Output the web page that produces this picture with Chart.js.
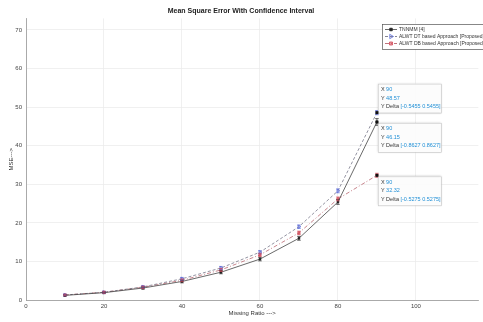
<!DOCTYPE html>
<html>
<head>
<meta charset="utf-8">
<script src="https://cdn.jsdelivr.net/npm/chart.js@4"></script>
<style>
  html, body { margin: 0; padding: 0; background: #fff; }
  #wrap { width: 483px; height: 322px; }
</style>
</head>
<body>
<div id="wrap"><canvas id="mseChart" width="483" height="322"></canvas></div>
<script>
// missing ratio (%) on x, mean square error on y
const missingRatio = [10, 20, 30, 40, 50, 60, 70, 80, 90];
const tnnmmMse = [1.2, 1.9, 3.1, 4.8, 7.2, 10.6, 16.0, 25.4, 46.15];
const dtMse = [1.3, 2.0, 3.4, 5.5, 8.3, 12.4, 19.0, 28.3, 48.57];
const dbMse = [1.3, 2.0, 3.3, 5.1, 7.8, 11.7, 17.4, 26.2, 32.32];

// half width of the confidence interval at each point
const tnnmmErr = [0.2, 0.25, 0.3, 0.35, 0.4, 0.45, 0.5, 0.6, 0.8627];
const dtErr = [0.2, 0.25, 0.3, 0.35, 0.4, 0.4, 0.45, 0.5, 0.5455];
const dbErr = [0.2, 0.25, 0.3, 0.35, 0.4, 0.4, 0.45, 0.5, 0.5275];

const seriesNames = [
  "TNNMM [4]",
  "ALWT DT based Approach [Proposed]",
  "ALWT DB based Approach [Proposed]"
];
const xTicks = [0, 20, 40, 60, 80, 100];
const yTicks = [0, 10, 20, 30, 40, 50, 60, 70];

const FONT = "'Liberation Sans', Arial, sans-serif";
Chart.defaults.font.family = FONT;

function toPoints(ys) {
  return missingRatio.map((x, i) => ({ x: x, y: ys[i] }));
}

// vertical error bars with small caps
const errorBars = {
  id: "errorBars",
  afterDatasetsDraw(chart) {
    const ctx = chart.ctx;
    const yScale = chart.scales.y;
    chart.data.datasets.forEach((ds, di) => {
      const meta = chart.getDatasetMeta(di);
      ctx.save();
      ctx.strokeStyle = ds.pointBorderColor;
      ctx.lineWidth = 0.7;
      meta.data.forEach((pt, i) => {
        const v = ds.data[i].y;
        const e = ds.errors[i];
        const top = yScale.getPixelForValue(v + e);
        const bot = yScale.getPixelForValue(v - e);
        ctx.beginPath();
        ctx.moveTo(pt.x, top); ctx.lineTo(pt.x, bot);
        ctx.moveTo(pt.x - 1.8, top); ctx.lineTo(pt.x + 1.8, top);
        ctx.moveTo(pt.x - 1.8, bot); ctx.lineTo(pt.x + 1.8, bot);
        ctx.stroke();
      });
      ctx.restore();
    });
  }
};

// data tip boxes at the last point of each series
const dataTips = [
  { ds: 1, idx: 8, above: true },
  { ds: 0, idx: 8, above: false },
  { ds: 2, idx: 8, above: false }
];

const tipPlugin = {
  id: "tipPlugin",
  afterDraw(chart) {
    const ctx = chart.ctx;
    const xs = chart.scales.x, ys = chart.scales.y;
    ctx.save();
    dataTips.forEach(t => {
      const ds = chart.data.datasets[t.ds];
      const p = ds.data[t.idx];
      const px = xs.getPixelForValue(p.x);
      const py = ys.getPixelForValue(p.y);
      const e = ds.errors[t.idx];
      const w = 63, h = 29;
      const bx = px + 1;
      const by = t.above ? py - h : py + 1;
      ctx.fillStyle = "rgba(255,255,255,0.95)";
      ctx.shadowColor = "rgba(0,0,0,0.25)";
      ctx.shadowBlur = 2;
      ctx.fillRect(bx, by, w, h);
      ctx.shadowBlur = 0;
      ctx.strokeStyle = "#c8c8c8";
      ctx.lineWidth = 0.6;
      ctx.strokeRect(bx + 0.5, by + 0.5, w, h);

      const rows = [
        ["X ", String(p.x)],
        ["Y ", p.y.toFixed(2)],
        ["Y Delta ", "[-" + e.toFixed(4) + " " + e.toFixed(4) + "]"]
      ];
      ctx.font = "5.5px " + FONT;
      ctx.textBaseline = "middle";
      rows.forEach((r, i) => {
        const ty = by + 6 + i * 8.5;
        ctx.fillStyle = "#333";
        ctx.fillText(r[0], bx + 3, ty);
        const lw = ctx.measureText(r[0]).width;
        ctx.fillStyle = "#1f8fd6";
        ctx.fillText(r[1], bx + 3 + lw, ty);
      });

      ctx.fillStyle = "#111";
      ctx.fillRect(px - 1.5, py - 1.5, 3, 3);
    });
    ctx.restore();
  }
};

// boxed legend in the top right corner of the plot
const boxLegend = {
  id: "boxLegend",
  afterDraw(chart) {
    const ctx = chart.ctx;
    const x0 = 382, y0 = 24, w = 110, rowH = 7;
    ctx.save();
    ctx.fillStyle = "#fff";
    ctx.fillRect(x0, y0, w, rowH * 3 + 4);
    ctx.strokeStyle = "#555";
    ctx.lineWidth = 0.7;
    ctx.strokeRect(x0 + 0.5, y0 + 0.5, w, rowH * 3 + 4);
    ctx.font = "5px " + FONT;
    ctx.textBaseline = "middle";
    chart.data.datasets.forEach((ds, i) => {
      const ry = y0 + 5.5 + i * rowH;
      ctx.strokeStyle = ds.borderColor;
      ctx.lineWidth = 0.8;
      ctx.setLineDash(ds.borderDash || []);
      ctx.beginPath();
      ctx.moveTo(x0 + 3, ry); ctx.lineTo(x0 + 15, ry);
      ctx.stroke();
      ctx.setLineDash([]);
      ctx.strokeStyle = ds.pointBorderColor;
      ctx.fillStyle = ds.pointBackgroundColor;
      Chart.helpers.drawPoint(ctx, {
        pointStyle: ds.pointStyle,
        radius: ds.pointRadius + 0.5,
        rotation: ds.pointRotation || 0,
        borderWidth: 0.8
      }, x0 + 9, ry);
      ctx.fillStyle = "#333";
      ctx.fillText(seriesNames[i], x0 + 17, ry);
    });
    ctx.restore();
  }
};

new Chart(document.getElementById("mseChart"), {
  type: "line",
  data: {
    datasets: [
      {
        label: seriesNames[0],
        data: toPoints(tnnmmMse),
        errors: tnnmmErr,
        borderColor: "#444444",
        pointBorderColor: "#222222",
        pointBackgroundColor: "#222222",
        borderWidth: 0.8,
        pointStyle: "rect",
        pointRadius: 1.3,
        pointBorderWidth: 0.6
      },
      {
        label: seriesNames[1],
        data: toPoints(dtMse),
        errors: dtErr,
        borderColor: "#66667a",
        pointBorderColor: "#5a6ad8",
        pointBackgroundColor: "rgba(255,255,255,0)",
        borderWidth: 0.7,
        borderDash: [3, 2],
        pointStyle: "triangle",
        pointRotation: 90,
        pointRadius: 2,
        pointBorderWidth: 0.7
      },
      {
        label: seriesNames[2],
        data: toPoints(dbMse),
        errors: dbErr,
        borderColor: "#b0505c",
        pointBorderColor: "#d04858",
        pointBackgroundColor: "rgba(220,90,100,0.6)",
        borderWidth: 0.7,
        borderDash: [4, 2, 1, 2],
        pointStyle: "rect",
        pointRadius: 1.6,
        pointBorderWidth: 0.7
      }
    ]
  },
  options: {
    responsive: false,
    animation: false,
    devicePixelRatio: 1,
    layout: { padding: { left: 0, right: 1, top: 0, bottom: 0 } },
    plugins: {
      legend: { display: false },
      tooltip: { enabled: false },
      title: {
        display: true,
        text: "Mean Square Error With Confidence Interval",
        color: "#222",
        font: { size: 7, weight: "bold" },
        padding: { top: 7, bottom: 3 }
      }
    },
    scales: {
      x: {
        type: "linear",
        min: 0,
        max: 116,
        afterBuildTicks: s => { s.ticks = xTicks.map(v => ({ value: v })); },
        afterFit: s => { s.height = 22; },
        ticks: { color: "#444", font: { size: 6 }, padding: 3, maxRotation: 0 },
        grid: { color: "#ececec", drawTicks: false, lineWidth: 0.8 },
        border: { color: "#999", width: 0.8 },
        title: {
          display: true,
          text: "Missing Ratio --->",
          color: "#333",
          font: { size: 6 },
          padding: { top: 0, bottom: 5 }
        }
      },
      y: {
        min: 0,
        max: 73,
        afterBuildTicks: s => { s.ticks = yTicks.map(v => ({ value: v })); },
        afterFit: s => { s.width = 26; },
        ticks: { color: "#444", font: { size: 6 }, padding: 4 },
        grid: { color: "#ececec", drawTicks: false, lineWidth: 0.8 },
        border: { color: "#999", width: 0.8 },
        title: {
          display: true,
          text: "MSE--->",
          color: "#333",
          font: { size: 6 },
          padding: { top: 8, bottom: 0 }
        }
      }
    }
  },
  plugins: [errorBars, tipPlugin, boxLegend]
});
</script>
</body>
</html>
